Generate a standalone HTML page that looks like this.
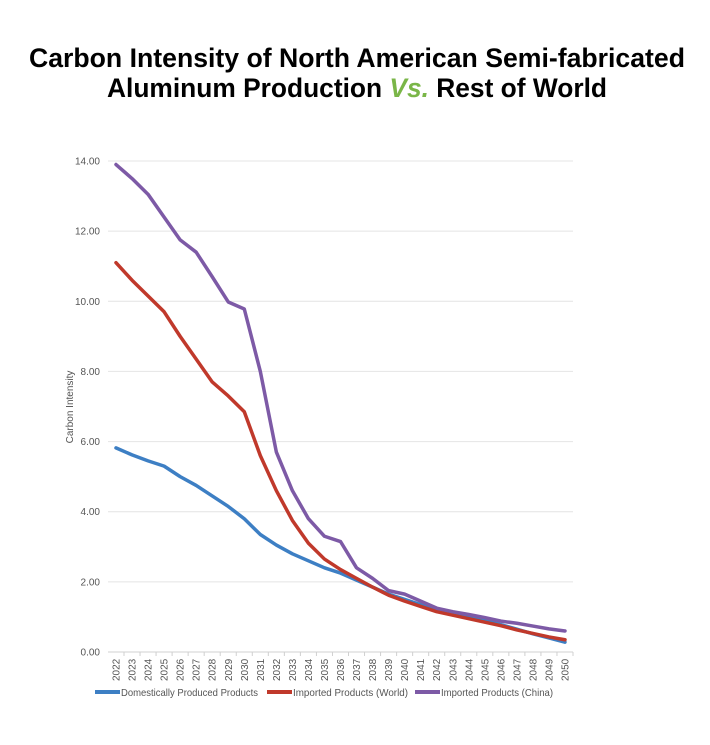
<!DOCTYPE html>
<html><head><meta charset="utf-8"><style>
html,body{margin:0;padding:0;background:#fff;}
svg{display:block;font-family:"Liberation Sans",sans-serif;}
</style></head><body>
<svg id="chart" width="710" height="745" viewBox="0 0 710 745" xmlns="http://www.w3.org/2000/svg">
<text x="357" y="67" text-anchor="middle" font-size="27" font-weight="bold" fill="#000" textLength="656" lengthAdjust="spacingAndGlyphs">Carbon Intensity of North American Semi-fabricated</text>
<text x="357" y="97" text-anchor="middle" font-size="27" font-weight="bold" fill="#000" textLength="500" lengthAdjust="spacingAndGlyphs">Aluminum Production <tspan fill="#7ab648" font-style="italic">Vs.</tspan> Rest of World</text>
<g id="grid"></g>
<g id="yticks"></g>
<g id="xticks"></g>
<g id="series"></g>
<text transform="translate(73,407) rotate(-90)" text-anchor="middle" font-size="10" fill="#555">Carbon Intensity</text>
<g id="legend"></g>
</svg>
<script>
const years = [2022,2023,2024,2025,2026,2027,2028,2029,2030,2031,2032,2033,2034,2035,2036,2037,2038,2039,2040,2041,2042,2043,2044,2045,2046,2047,2048,2049,2050];
const domestic = [5.82,5.62,5.45,5.3,5.0,4.75,4.45,4.15,3.8,3.35,3.05,2.8,2.6,2.4,2.25,2.05,1.85,1.65,1.5,1.35,1.2,1.1,1.0,0.9,0.78,0.65,0.52,0.4,0.28];
const world = [11.1,10.6,10.15,9.7,9.0,8.35,7.7,7.3,6.85,5.6,4.6,3.75,3.1,2.65,2.35,2.1,1.85,1.62,1.45,1.3,1.15,1.05,0.95,0.85,0.75,0.63,0.53,0.43,0.35];
const china = [13.9,13.5,13.05,12.4,11.75,11.4,10.7,9.98,9.78,8.0,5.7,4.6,3.8,3.3,3.15,2.4,2.1,1.75,1.65,1.45,1.25,1.15,1.07,0.98,0.88,0.82,0.74,0.66,0.6];
const yTicks = [0,2,4,6,8,10,12,14];
const seriesNames = ["Domestically Produced Products","Imported Products (World)","Imported Products (China)"];

const NS="http://www.w3.org/2000/svg";
const X0=116, X1=565, Y0=652, Y1=161, GL=108, GR=573;
const xs=i=>X0+(X1-X0)*i/(years.length-1);
const ys=v=>Y0-(Y0-Y1)*v/14;
function mk(tag,attrs,parent){const e=document.createElementNS(NS,tag);for(const k in attrs)e.setAttribute(k,attrs[k]);parent.appendChild(e);return e;}
const grid=document.getElementById('grid'), yt=document.getElementById('yticks'), xt=document.getElementById('xticks'), sg=document.getElementById('series'), lg=document.getElementById('legend');
yTicks.forEach(v=>{
  const l=mk('line',{x1:GL,x2:GR,y1:ys(v),y2:ys(v),stroke:v===0?'#d0d0d0':'#e4e4e4','stroke-width':1},grid);
  
  
  const t=mk('text',{x:100,y:ys(v)+3.5,'text-anchor':'end','font-size':10,fill:'#555'},yt);
  t.textContent=v.toFixed(2);
  
  
});
years.forEach((y,i)=>{
  const t=mk('text',{transform:`translate(${xs(i)+3.5},681) rotate(-90)`,'text-anchor':'start','font-size':10,fill:'#555'},xt);
  t.textContent=y;
  
  
  const tk=mk('line',{x1:xs(i)+8,x2:xs(i)+8,y1:Y0,y2:Y0+4,stroke:'#d0d0d0'},xt);
  
  
});
const colors=['#3d7fc4','#c0392b','#7d5aa6'];
[domestic,world,china].forEach((arr,si)=>{
  const p=mk('polyline',{points:arr.map((v,i)=>xs(i)+','+ys(v)).join(' '),fill:'none',stroke:colors[si],'stroke-width':3.5,'stroke-linejoin':'round','stroke-linecap':'round'},sg);
  
  
});
const lx=[95,267,415];
const lw=[137,115,112];
seriesNames.forEach((n,i)=>{
  const l=mk('line',{x1:lx[i],x2:lx[i]+25,y1:692,y2:692,stroke:colors[i],'stroke-width':4},lg);
  
  
  const t=mk('text',{x:lx[i]+26,y:696,'font-size':10.5,fill:'#555',textLength:lw[i],lengthAdjust:'spacingAndGlyphs'},lg);
  t.textContent=n;
  
  
});
</script>
</body></html>
